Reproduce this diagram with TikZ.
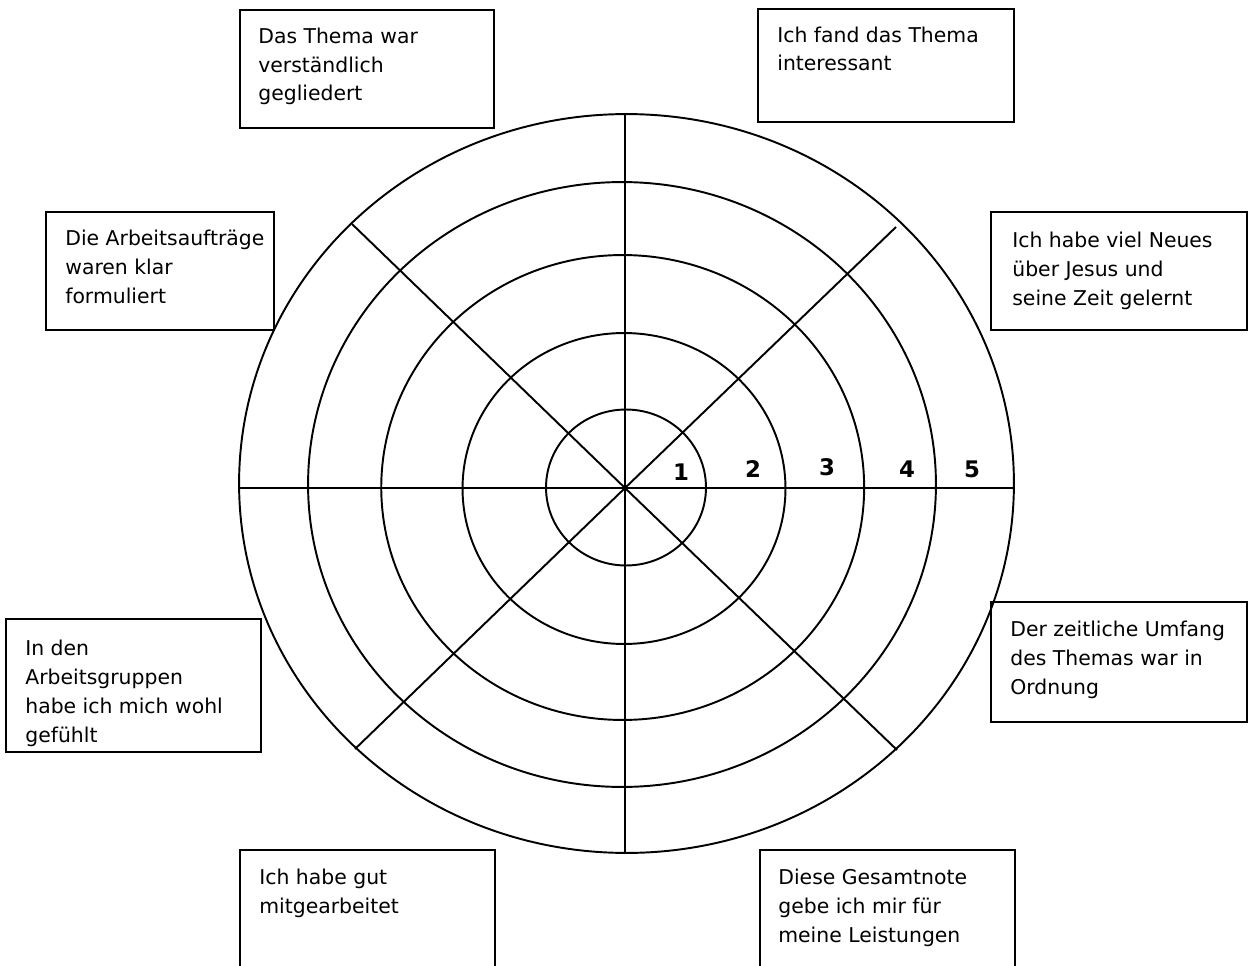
\documentclass[tikz,border=0pt]{standalone}
\usepackage{fontspec}
\setmainfont{DejaVu Sans}
\usetikzlibrary{positioning}
\tikzset{
  ring/.style={line width=1.1pt},
  spoke/.style={line width=1.1pt},
  itembox/.style={draw, line width=1.1pt, anchor=north west, minimum height=#1, inner sep=0pt},
  itemtext/.style={anchor=base west, align=left, inner sep=0pt, font=\fontsize{11.6pt}{16.5pt}\selectfont},
  scorenum/.style={anchor=base, inner sep=0pt, font=\fontsize{13pt}{15pt}\selectfont\bfseries}
}
\begin{document}
\begin{tikzpicture}[x=0.02cm, y=-0.02cm]
  \clip (0,0) rectangle (1260,966);
  \useasboundingbox (0,0) rectangle (1260,966);

  % rings
  \draw[ring] (626,487.5) ellipse [x radius=1.6cm, y radius=1.56cm];
  \draw[ring] (624,488.5) ellipse [x radius=3.23cm, y radius=3.11cm];
  \draw[ring] (622.7,487.5) ellipse [x radius=4.83cm, y radius=4.65cm];
  \draw[ring] (622,484.5) ellipse [x radius=6.28cm, y radius=6.05cm];
  \draw[ring] (626.5,483.5) ellipse [x radius=7.75cm, y radius=7.39cm];

  % spokes
  \coordinate (c) at (625,488);
  \coordinate (top) at (625,114);
  \coordinate (bot) at (625,853);
  \coordinate (lft) at (239,488);
  \coordinate (rgt) at (1014,488);
  \coordinate (ul) at (352,224);
  \coordinate (ur) at (896,227);
  \coordinate (ll) at (355,749);
  \coordinate (lr) at (897,750);
  \draw[spoke] (top)--(bot);
  \draw[spoke] (lft)--(rgt);
  \draw[spoke] (ul)--(c)--(lr);
  \draw[spoke] (ur)--(c)--(ll);

  % scale
  \node[scorenum] (s1) at (681,480) {1};
  \node[scorenum] (s2) at (753,477) {2};
  \node[scorenum] (s3) at (827,475) {3};
  \node[scorenum] (s4) at (907,477) {4};
  \node[scorenum] (s5) at (972,477) {5};

  % boxes (text placed at baseline of its last line)
  \node[itembox=2.36cm, minimum width=5.08cm] (b1) at (239,9) {};
  \node[itemtext] (t1) at (258,101) {Das Thema war\\verständlich\\gegliedert};

  \node[itembox=2.26cm, minimum width=5.12cm] (b2) at (757,8) {};
  \node[itemtext] (t2) at (777,71) {Ich fand das Thema\\interessant};

  \node[itembox=2.36cm, minimum width=4.56cm] (b3) at (45,211) {};
  \node[itemtext] (t3) at (65,303) {Die Arbeitsaufträge\\waren klar\\formuliert};

  \node[itembox=2.36cm, minimum width=5.12cm] (b4) at (990,211) {};
  \node[itemtext] (t4) at (1012,305) {Ich habe viel Neues\\über Jesus und\\seine Zeit gelernt};

  \node[itembox=2.66cm, minimum width=5.1cm] (b5) at (5,618) {};
  \node[itemtext] (t5) at (25,742) {In den\\Arbeitsgruppen\\habe ich mich wohl\\gefühlt};

  \node[itembox=2.4cm, minimum width=5.12cm] (b6) at (990,601) {};
  \node[itemtext] (t6) at (1010,694) {Der zeitliche Umfang\\des Themas war in\\Ordnung};

  \node[itembox=3cm, minimum width=5.1cm] (b7) at (239,849) {};
  \node[itemtext] (t7) at (259,913) {Ich habe gut\\mitgearbeitet};

  \node[itembox=3cm, minimum width=5.1cm] (b8) at (759,849) {};
  \node[itemtext] (t8) at (778,942) {Diese Gesamtnote\\gebe ich mir für\\meine Leistungen};
\end{tikzpicture}
\end{document}
